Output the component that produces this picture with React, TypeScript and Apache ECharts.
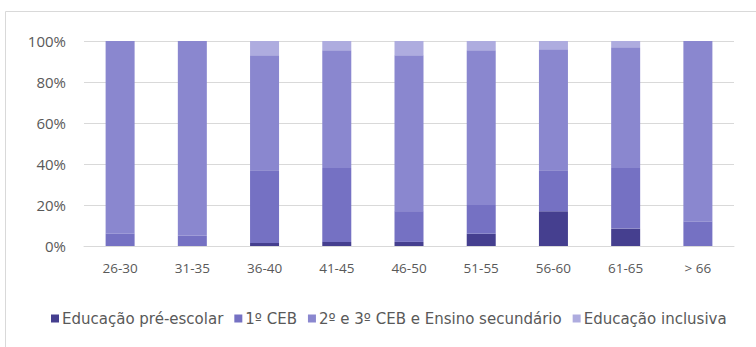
import React, { useEffect, useRef } from "react";
import * as echarts from "echarts";

const categories = ["26-30", "31-35", "36-40", "41-45", "46-50", "51-55", "56-60", "61-65", "> 66"];
const preEscolar = [0, 0, 1.5, 2, 2, 6, 17, 8.5, 0];
const primeiroCEB = [6, 5, 35.5, 36, 15, 14, 20, 29.5, 12];
const segundoTerceiro = [94, 95, 56, 57.5, 76, 75.5, 59, 59, 88];
const inclusiva = [0, 0, 7, 4.5, 7, 4.5, 4, 3, 0];
const yTicks = [0, 20, 40, 60, 80, 100];

const seriesNames = [
  "Educação pré-escolar",
  "1º CEB",
  "2º e 3º CEB e Ensino secundário",
  "Educação inclusiva",
];
const colors = ["#453f8f", "#7571c3", "#8a87cf", "#aeacdf"];

export default function App() {
  const ref = useRef<HTMLDivElement>(null);
  useEffect(() => {
    if (!ref.current) return;
    const chart = echarts.init(ref.current, null, { renderer: "svg" });
    const font = "'Open Sans', 'Liberation Sans', sans-serif";
    const legendFont = "'DejaVu Sans', 'Open Sans', sans-serif";
    const data = [preEscolar, primeiroCEB, segundoTerceiro, inclusiva];
    chart.setOption({
      animation: false,
      backgroundColor: "#ffffff",
      textStyle: { fontFamily: font },
      graphic: [
        {
          type: "polyline",
          shape: { points: [[5.5, 360], [5.5, 11.5], [770, 11.5]] },
          style: { stroke: "#d9d9d9", lineWidth: 1, fill: null },
          silent: true,
        },
      ],
      grid: { left: 84, right: 22, top: 41, bottom: 101, containLabel: false },
      legend: {
        data: seriesNames,
        left: 46,
        top: 306,
        icon: "rect",
        itemWidth: 8,
        itemHeight: 8,
        itemGap: 11,
        textStyle: { fontFamily: legendFont, fontSize: 15, color: "#595959", padding: [0, 0, 0, -2] },
      },
      xAxis: {
        type: "category",
        data: categories,
        axisLine: { show: true, lineStyle: { color: "#d9d9d9" } },
        axisTick: { show: false },
        axisLabel: { fontFamily: font, fontSize: 13.5, color: "#595959", margin: 15 },
      },
      yAxis: {
        type: "value",
        min: 0,
        max: 100,
        interval: 20,
        axisLine: { show: false },
        axisTick: { show: false },
        splitLine: { lineStyle: { color: "#d9d9d9" } },
        axisLabel: {
          fontFamily: font,
          fontSize: 15,
          color: "#595959",
          margin: 18,
          formatter: (v: number) => (yTicks.includes(v) ? v + "%" : ""),
        },
      },
      series: seriesNames.map((name, i) => ({
        name,
        type: "bar",
        stack: "total",
        barWidth: 29,
        data: data[i],
        itemStyle: { color: colors[i] },
      })),
    });
    return () => chart.dispose();
  }, []);
  return (
    <div
      ref={ref}
      style={{ position: "fixed", left: 0, top: 0, width: 756, height: 347 }}
    />
  );
}
